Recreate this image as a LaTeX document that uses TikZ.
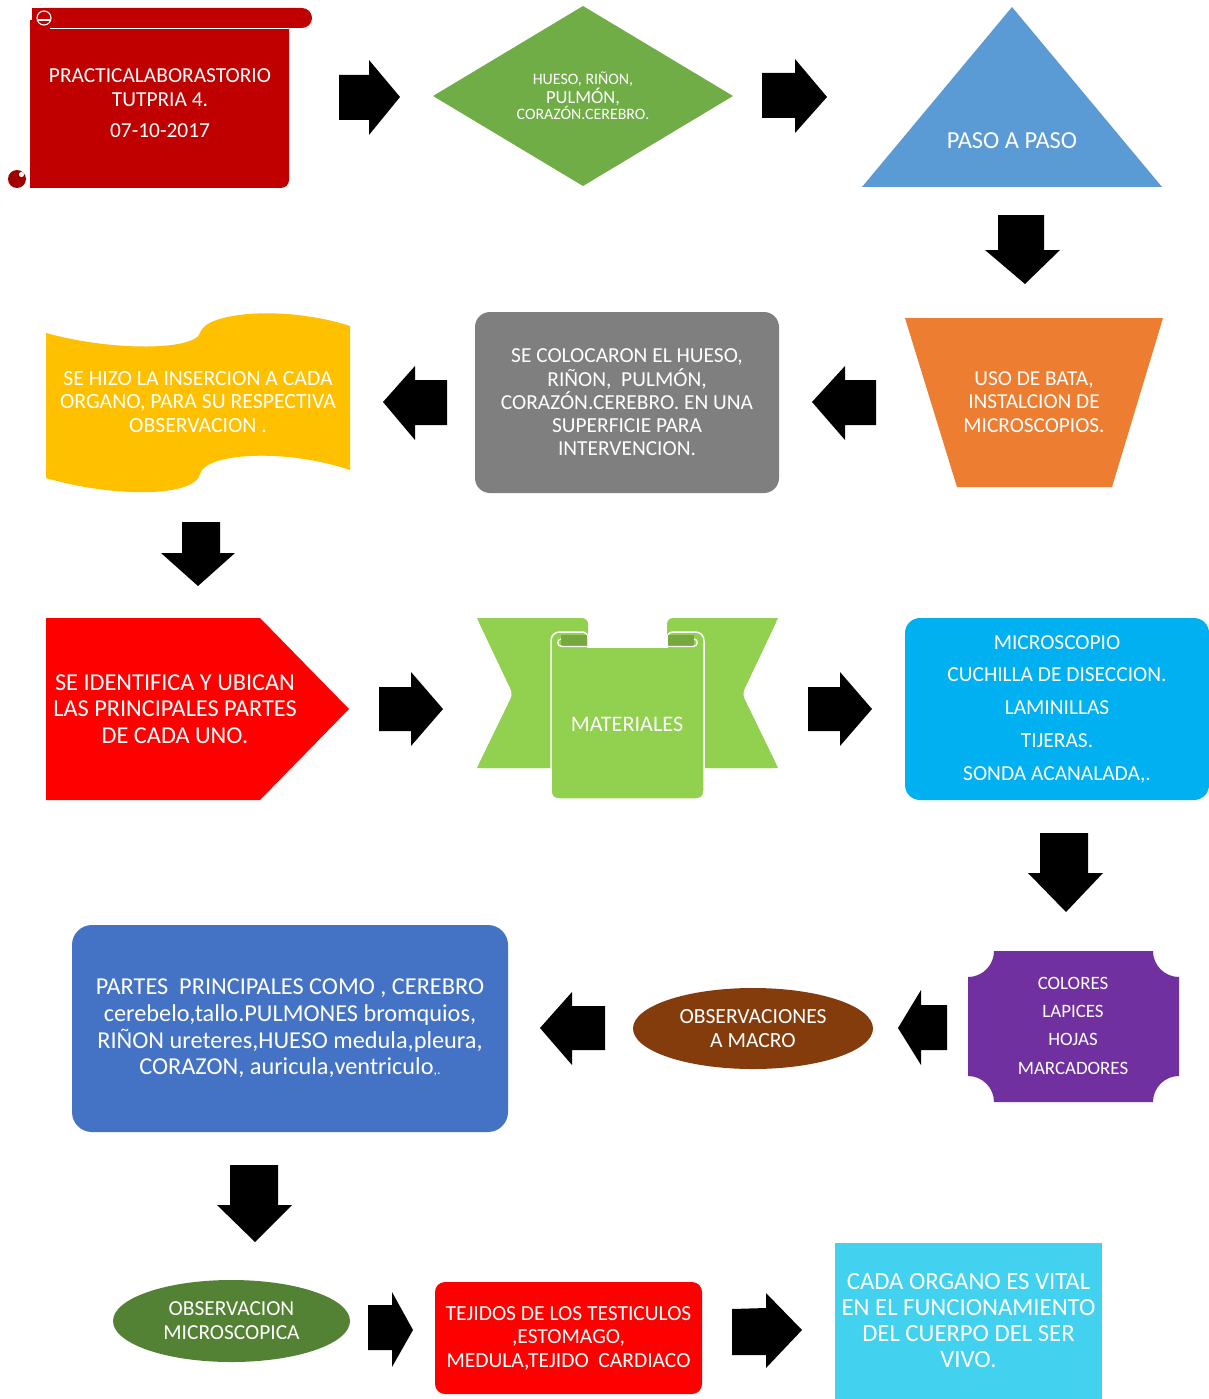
\documentclass[tikz,border=0pt]{standalone}
\usepackage{fontspec}
\setmainfont{Carlito}
\usetikzlibrary{shapes.geometric}
\definecolor{scrollred}{HTML}{C00000}
\definecolor{curlred}{HTML}{A00000}
\definecolor{dgreen}{HTML}{70AD47}
\definecolor{tblue}{HTML}{5B9BD5}
\definecolor{orng}{HTML}{ED7D31}
\definecolor{gry}{HTML}{7F7F7F}
\definecolor{yel}{HTML}{FFC000}
\definecolor{rred}{HTML}{FF0000}
\definecolor{lgreen}{HTML}{92D050}
\definecolor{fgreen}{HTML}{76A83F}
\definecolor{cyn}{HTML}{00B0F0}
\definecolor{purp}{HTML}{7030A0}
\definecolor{brwn}{HTML}{843C0C}
\definecolor{bblue}{HTML}{4472C4}
\definecolor{mgreen}{HTML}{548235}
\definecolor{lcyan}{HTML}{42D1EF}
\tikzset{
  lbl/.style={text=white, align=center, inner sep=0pt},
  blk/.style={fill=black},
}
\begin{document}
\begin{tikzpicture}[x=1pt,y=-1pt]
\useasboundingbox (0,0) rectangle (1209,1399);
\fill[white] (0,0) rectangle (1209,1399);

% ---------- row 1 ----------
% scroll
\fill[scrollred, rounded corners=8pt] (30,20) rectangle (289,188);
\fill[scrollred] (30,20) rectangle (289,100);
\fill[scrollred] (30,150) rectangle (60,188);
\fill[scrollred, rounded corners=10pt] (32,8) rectangle (312,28);
\fill[scrollred] (32,8) rectangle (50,28);
\draw[white, line width=0.8pt] (50,28) -- (289,28);
\draw[white, line width=1.1pt] (44,18) circle (7);
\draw[white, line width=1.1pt] (37,20) -- (51,20);
\fill[curlred] (17,179) circle (9);
\fill[white] (21.5,174.5) circle (2.6);
\draw[white, line width=1.2pt] (27,170) -- (27,186);
\node[lbl, font=\fontsize{21.4}{24}\selectfont] (scroll) at (160,103)
  {PRACTICALABORASTORIO\\TUTPRIA 4.\\[7pt]07-10-2017};

% diamond
\fill[dgreen] (433,96) -- (583,6) -- (733,96) -- (583,186) -- cycle;
\node[lbl] (diam) at (583,96)
  {\fontsize{15.9}{18.5}\selectfont HUESO, RIÑON,\\
   \fontsize{18.5}{18.5}\selectfont PULMÓN,\\
   \fontsize{15.9}{18.5}\selectfont CORAZÓN.CEREBRO.};

% triangle
\fill[tblue] (1012,7) -- (1162,187) -- (862,187) -- cycle;
\node[lbl, font=\fontsize{24.5}{26}\selectfont] (tri) at (1012,141) {PASO A PASO};

% arrows row 1
\fill[blk] (339,75) -- (369,75) -- (369,60) -- (400,97) -- (369,135) -- (369,120) -- (339,120) -- cycle;
\fill[blk] (762,73) -- (795,73) -- (795,59) -- (827,97) -- (795,133) -- (795,118) -- (762,118) -- cycle;
\fill[blk] (998,215) -- (1044,215) -- (1044,250) -- (1060,250) -- (1025,284) -- (985,250) -- (998,250) -- cycle;

% ---------- row 2 ----------
% trapezoid
\fill[orng] (905,318) -- (1163,318) -- (1112,487) -- (957,487) -- cycle;
\node[lbl, font=\fontsize{21.3}{23.5}\selectfont] (trap) at (1034,402)
  {USO DE BATA,\\INSTALCION DE\\MICROSCOPIOS.};

% gray box
\node[lbl, fill=gry, rounded corners=15pt, minimum width=304pt, minimum height=181pt,
      font=\fontsize{21.4}{23.3}\selectfont] (gray) at (627,402.5)
  {SE COLOCARON EL HUESO,\\RIÑON,\ \ PULMÓN,\\CORAZÓN.CEREBRO. EN UNA\\SUPERFICIE PARA\\INTERVENCION.};

% yellow wave
\fill[yel] (46,333) .. controls (115,352) and (195,350) .. (200,333)
  .. controls (205,312) and (285,305) .. (350,326) -- (350,470)
  .. controls (285,448) and (205,453) .. (200,474)
  .. controls (195,497) and (115,498) .. (46,478) -- cycle;
\node[lbl, font=\fontsize{21.7}{23.5}\selectfont] (wave) at (198,402)
  {SE HIZO LA INSERCION A CADA\\ORGANO, PARA SU RESPECTIVA\\OBSERVACION .};

% arrows row 2
\fill[blk] (876,380) -- (845,380) -- (845,366) -- (812,402) -- (845,440) -- (845,425) -- (876,425) -- cycle;
\fill[blk] (447,380) -- (415,380) -- (415,366) -- (383,402) -- (415,440) -- (415,425) -- (447,425) -- cycle;
\fill[blk] (182,522) -- (220,522) -- (220,553) -- (235,553) -- (198,586) -- (161,553) -- (182,553) -- cycle;

% ---------- row 3 ----------
% pentagon
\fill[rred] (46,618) -- (260,618) -- (349,709) -- (260,800) -- (46,800) -- cycle;
\node[lbl, font=\fontsize{24.3}{26.5}\selectfont] (penta) at (175,709)
  {SE IDENTIFICA Y UBICAN\\LAS PRINCIPALES PARTES\\DE CADA UNO.};

% ribbon tails
\fill[lgreen, rounded corners=6pt] (477,618) -- (588,618) -- (588,648) -- (551,648) -- (551,768) -- (477,768) -- (513,694) -- cycle;
\fill[lgreen] (477,618) -- (560,618) -- (560,768) -- (477,768) -- (513,694) -- cycle;
\fill[lgreen, rounded corners=6pt] (778,618) -- (667,618) -- (667,648) -- (704,648) -- (704,768) -- (778,768) -- (742,694) -- cycle;
\fill[lgreen] (778,618) -- (695,618) -- (695,768) -- (778,768) -- (742,694) -- cycle;
% ribbon front panel
\draw[white, line width=1.5pt, fill=lgreen]
  (551,641) .. controls (551,635.5) and (554.5,632) .. (560,632) -- (582,632)
  .. controls (586,632) and (588,635) .. (588,639) -- (588,647) -- (667,647) -- (667,639)
  .. controls (667,635) and (669,632) .. (673,632) -- (695,632)
  .. controls (700.5,632) and (704,635.5) .. (704,641) -- (704,791)
  .. controls (704,796) and (701,799) .. (696,799) -- (559,799)
  .. controls (554,799) and (551,796) .. (551,791) -- cycle;
\fill[fgreen] (561,635) rectangle (587.2,646.5);
\fill[fgreen] (667.8,635) rectangle (694,646.5);
\draw[white, line width=1.3pt] (587.5,646.5) -- (562,646.5) .. controls (556.5,646.5) and (556.5,639) .. (561,639);
\draw[white, line width=1.3pt] (667.5,646.5) -- (693,646.5) .. controls (698.5,646.5) and (698.5,639) .. (694,639);
\node[lbl, font=\fontsize{22.2}{24}\selectfont] (mat) at (627,724) {MATERIALES};

% cyan box
\node[lbl, fill=cyn, rounded corners=15pt, minimum width=304pt, minimum height=182pt,
      font=\fontsize{21.4}{32.75}\selectfont] (cyan) at (1057,709)
  {MICROSCOPIO\\CUCHILLA DE DISECCION.\\LAMINILLAS\\TIJERAS.\\SONDA ACANALADA,.};

% arrows row 3
\fill[blk] (379,687) -- (411,687) -- (411,672) -- (443,709) -- (411,746) -- (411,731) -- (379,731) -- cycle;
\fill[blk] (808,687) -- (840,687) -- (840,672) -- (872,709) -- (840,746) -- (840,731) -- (808,731) -- cycle;
\fill[blk] (1040,833) -- (1088,833) -- (1088,873) -- (1103,873) -- (1066,912) -- (1028,873) -- (1040,873) -- cycle;

% ---------- row 4 ----------
% purple plaque
\fill[purp] (994,951) -- (1153,951) .. controls (1153,965.3) and (1164.7,977) .. (1179,977)
  -- (1179,1076) .. controls (1164.7,1076) and (1153,1087.7) .. (1153,1102)
  -- (994,1102) .. controls (994,1087.7) and (982.3,1076) .. (968,1076)
  -- (968,977) .. controls (982.3,977) and (994,965.3) .. (994,951) -- cycle;
\node[lbl, font=\fontsize{18.9}{28.3}\selectfont] (plaque) at (1073,1025.5)
  {COLORES\\LAPICES\\HOJAS\\MARCADORES};

% brown ellipse
\node[lbl, ellipse, fill=brwn, minimum width=240pt, minimum height=81pt,
      font=\fontsize{21.6}{24}\selectfont] (macro) at (753,1028.5)
  {OBSERVACIONES\\A MACRO};

% blue box
\node[lbl, fill=bblue, rounded corners=20pt, minimum width=436pt, minimum height=207pt,
      font=\fontsize{24.3}{26.7}\selectfont] (partes) at (290,1028.5)
  {PARTES\ \ PRINCIPALES COMO , CEREBRO\\cerebelo,tallo.PULMONES bromquios,\\RIÑON ureteres,HUESO medula,pleura,\\CORAZON, auricula,ventriculo{\fontsize{14}{14}\selectfont,.}};

% arrows row 4
\fill[blk] (947,1005) -- (921,1005) -- (921,990) -- (898,1028) -- (921,1065) -- (921,1050) -- (947,1050) -- cycle;
\fill[blk] (605,1006) -- (572,1006) -- (572,992) -- (540,1028) -- (572,1065) -- (572,1050) -- (605,1050) -- cycle;
\fill[blk] (230,1165) -- (278,1165) -- (278,1205) -- (292,1205) -- (255,1242) -- (217,1205) -- (230,1205) -- cycle;

% ---------- row 5 ----------
\node[lbl, ellipse, fill=mgreen, minimum width=237pt, minimum height=82pt,
      font=\fontsize{21.4}{24}\selectfont] (micro) at (231.5,1321)
  {OBSERVACION\\MICROSCOPICA};

\node[lbl, fill=rred, rounded corners=10pt, minimum width=267pt, minimum height=112pt,
      font=\fontsize{21.5}{23.5}\selectfont] (tejidos) at (568.5,1338)
  {TEJIDOS DE LOS TESTICULOS\\,ESTOMAGO,\\MEDULA,TEJIDO\ \ CARDIACO};

\node[lbl, fill=lcyan, minimum width=267pt, minimum height=156pt,
      font=\fontsize{24.7}{26}\selectfont] (vital) at (968.5,1321)
  {CADA ORGANO ES VITAL\\EN EL FUNCIONAMIENTO\\DEL CUERPO DEL SER\\VIVO.};

\fill[blk] (368,1305) -- (392,1305) -- (392,1292) -- (413,1330) -- (392,1367) -- (392,1350) -- (368,1350) -- cycle;
\fill[blk] (732,1309) -- (766,1308) -- (766,1293) -- (802,1330) -- (766,1368) -- (766,1355) -- (732,1355) -- cycle;
\end{tikzpicture}
\end{document}
